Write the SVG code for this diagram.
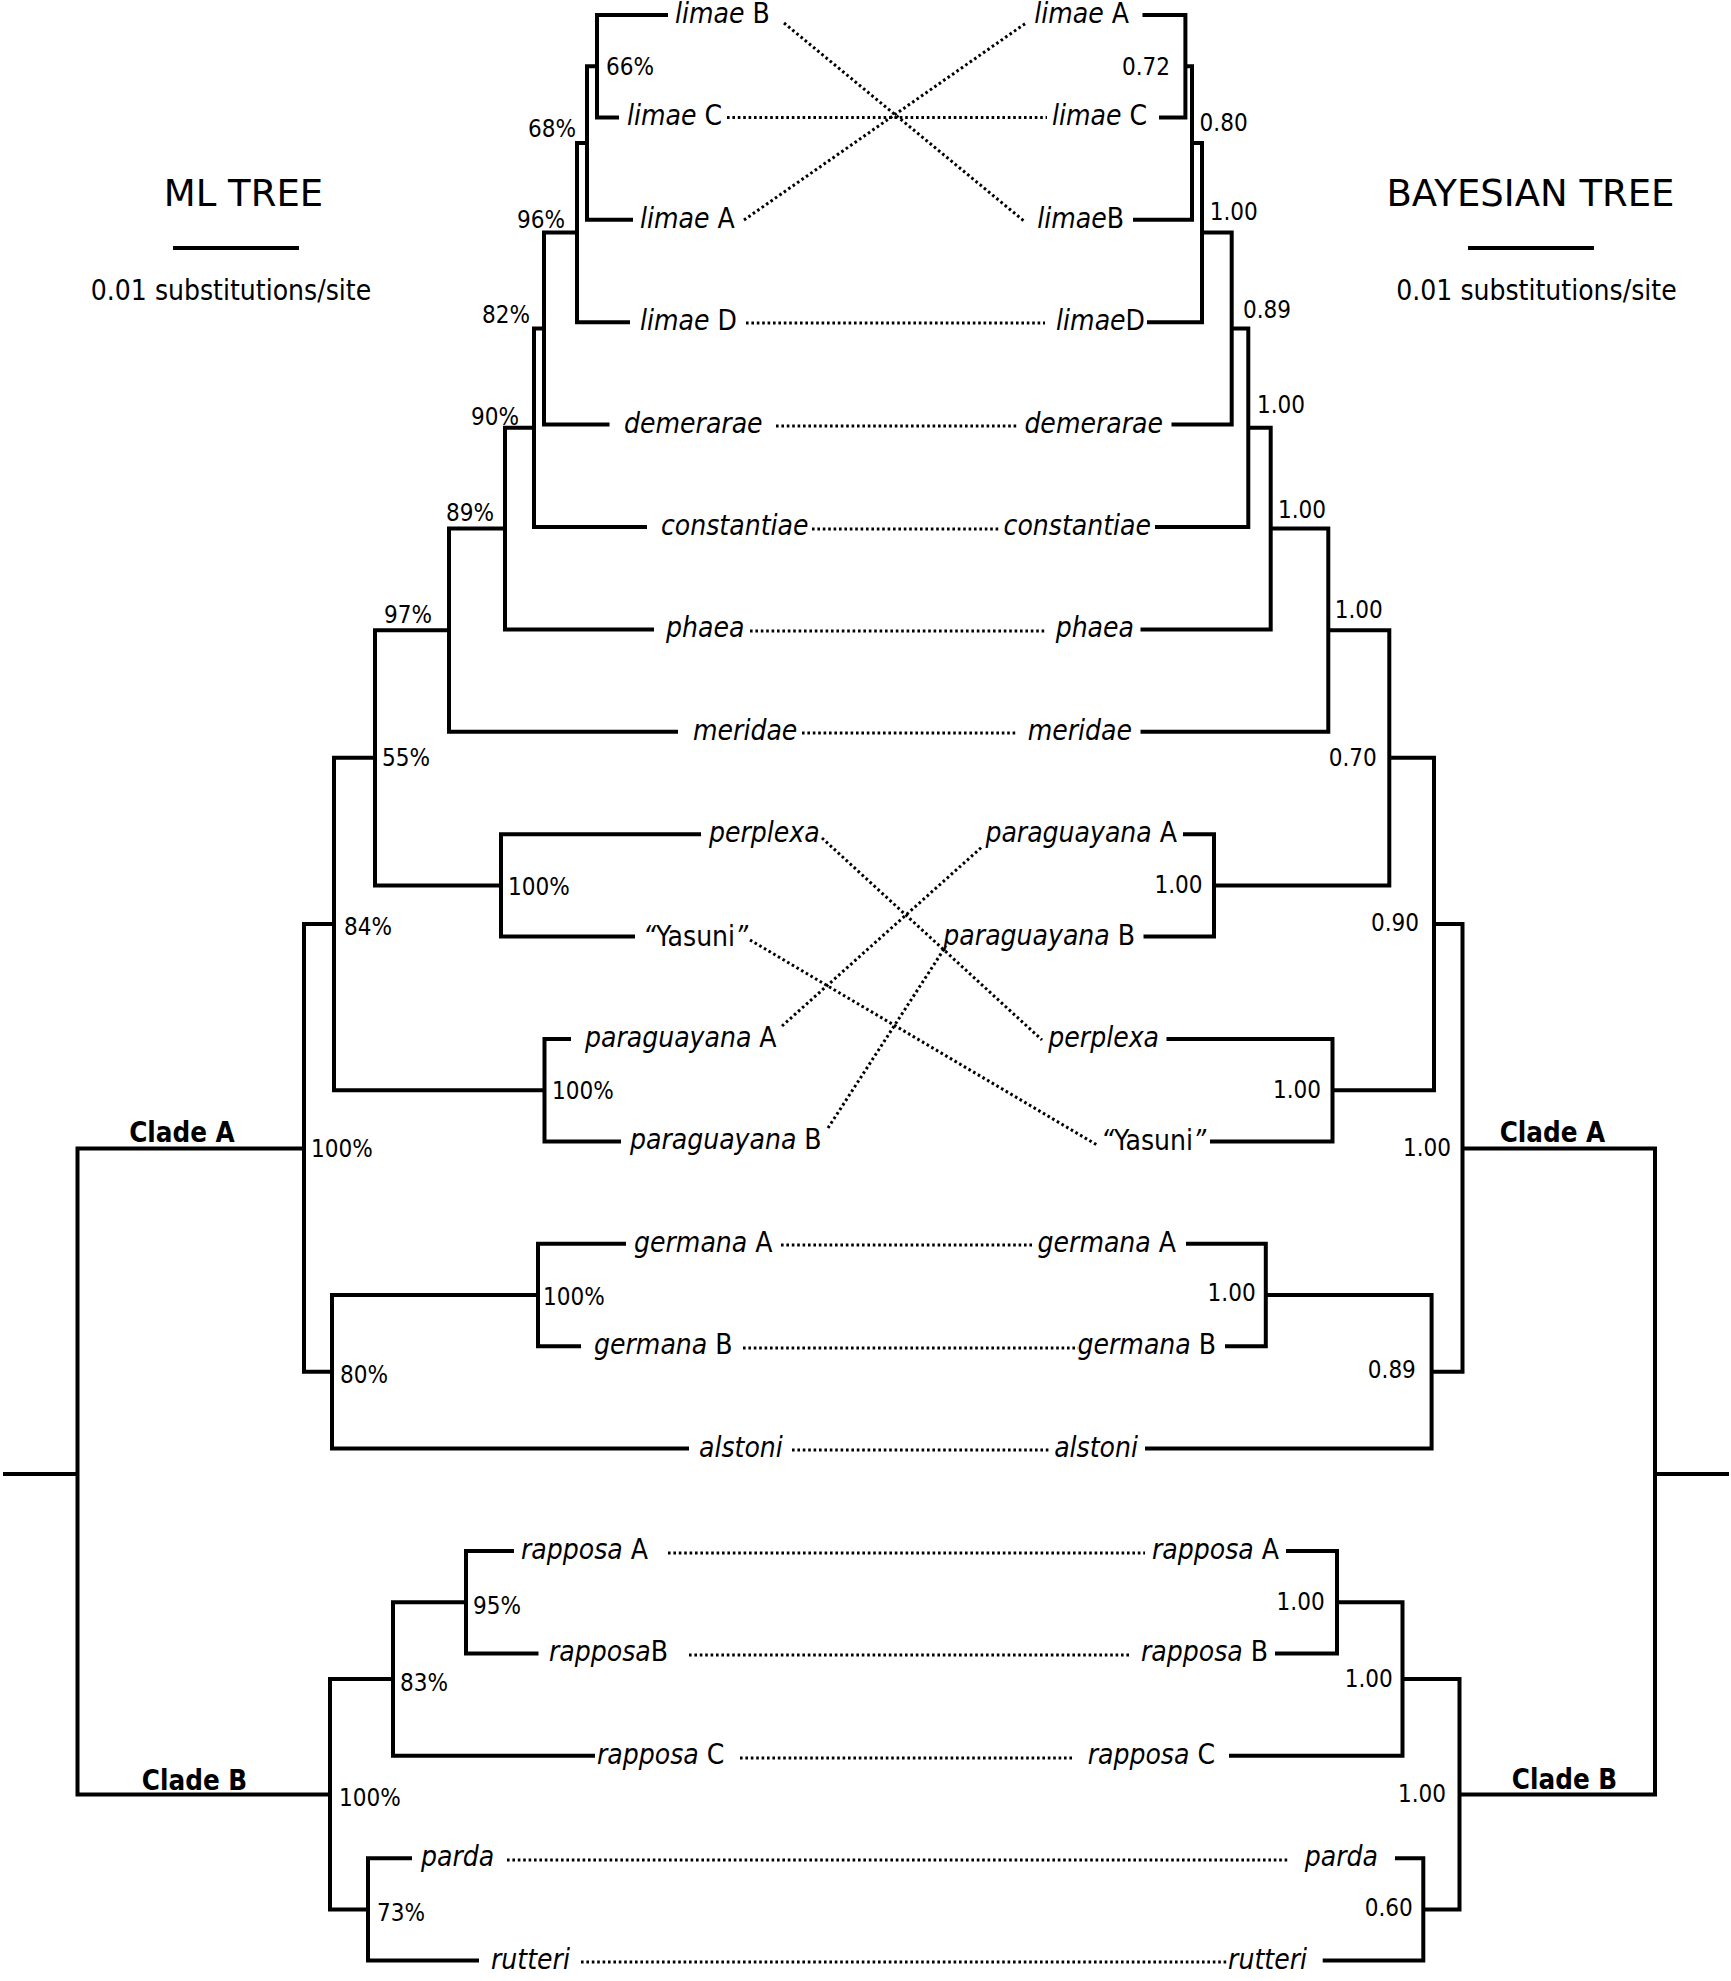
<svg xmlns="http://www.w3.org/2000/svg" width="1731" height="1981" viewBox="0 0 1731 1981">
<style>
.br{fill:none;stroke:#000;stroke-width:4;stroke-linejoin:miter;stroke-linecap:butt}
.dl{fill:none;stroke:#000;stroke-width:3;stroke-dasharray:2.6 2.8}
.sp{font-family:"DejaVu Sans Condensed","DejaVu Sans",sans-serif;font-stretch:condensed;font-size:28px;fill:#000}
.it{font-style:italic}
.num{font-family:"DejaVu Sans Condensed","DejaVu Sans",sans-serif;font-stretch:condensed;font-size:24px;fill:#000}
.clade{font-family:"DejaVu Sans Condensed","DejaVu Sans",sans-serif;font-stretch:condensed;font-weight:bold;font-size:27.5px;fill:#000}
.title{font-family:"DejaVu Sans",sans-serif;font-size:37px;fill:#000}
.sub{font-family:"DejaVu Sans Condensed","DejaVu Sans",sans-serif;font-stretch:condensed;font-size:28px;fill:#000}
.r{text-anchor:end}
</style>
<rect width="1731" height="1981" fill="#fff"/>

<g id="legend-ml">
<text class="title" x="243.5" y="206" text-anchor="middle">ML TREE</text>
<line class="br" x1="173" y1="248" x2="299" y2="248"/>
<text class="sub" x="231" y="300" text-anchor="middle">0.01 substitutions/site</text>
</g>
<g id="legend-bayes">
<text class="title" x="1530.5" y="206" text-anchor="middle">BAYESIAN TREE</text>
<line class="br" x1="1468" y1="248" x2="1594" y2="248"/>
<text class="sub" x="1536.5" y="300" text-anchor="middle">0.01 substitutions/site</text>
</g>

<g id="ml-branches">
<path class="br" d="M668,15 H597 V117.4 H619"/>
<path class="br" d="M597,66.2 H587 V219.8 H633"/>
<path class="br" d="M587,143 H577 V322.2 H630"/>
<path class="br" d="M577,232.6 H544 V424.6 H609.5"/>
<path class="br" d="M544,328.6 H534 V527 H647"/>
<path class="br" d="M534,427.8 H505 V629.4 H654"/>
<path class="br" d="M505,528.6 H449 V731.8 H678"/>
<path class="br" d="M701,834.2 H501 V936.6 H635"/>
<path class="br" d="M449,630.2 H375 V885.4 H501"/>
<path class="br" d="M571,1039 H544.5 V1141.4 H621"/>
<path class="br" d="M375,757.8 H334 V1090.2 H544.5"/>
<path class="br" d="M626,1243.8 H538 V1346.2 H581"/>
<path class="br" d="M538,1295 H332 V1448.6 H689"/>
<path class="br" d="M334,924 H304 V1371.8 H332"/>
<path class="br" d="M514,1551 H466 V1653.4 H538.5"/>
<path class="br" d="M466,1602.2 H393 V1755.8 H595"/>
<path class="br" d="M412,1858.2 H368 V1960.6 H479"/>
<path class="br" d="M393,1679 H330 V1909.4 H368"/>
<path class="br" d="M304,1148.5 H77.5 V1794.5 H330"/>
<path class="br" d="M3,1474 H77.5"/>
</g>

<g id="bayes-branches">
<path class="br" d="M1142.5,15 H1185.4 V117.4 H1159"/>
<path class="br" d="M1185.4,66.2 H1192 V219.8 H1133"/>
<path class="br" d="M1192,143 H1202 V322.2 H1147"/>
<path class="br" d="M1202,232.6 H1231.7 V424.6 H1171.5"/>
<path class="br" d="M1231.7,328.6 H1248.3 V527 H1155"/>
<path class="br" d="M1248.3,427.8 H1270.7 V629.4 H1140.5"/>
<path class="br" d="M1270.7,528.6 H1328.3 V731.8 H1140.5"/>
<path class="br" d="M1183,834.2 H1214 V936.6 H1143.5"/>
<path class="br" d="M1328.3,630.2 H1389.3 V885.4 H1214"/>
<path class="br" d="M1166.5,1039 H1332.5 V1141.4 H1210"/>
<path class="br" d="M1389.3,757.8 H1434 V1090.2 H1332.5"/>
<path class="br" d="M1186,1243.8 H1265.8 V1346.2 H1225"/>
<path class="br" d="M1265.8,1295 H1431.6 V1448.6 H1145"/>
<path class="br" d="M1434,924 H1462.5 V1371.8 H1431.6"/>
<path class="br" d="M1286,1551 H1337 V1653.4 H1275"/>
<path class="br" d="M1337,1602.2 H1402.5 V1755.8 H1229"/>
<path class="br" d="M1395,1858.2 H1423.3 V1960.6 H1322.7"/>
<path class="br" d="M1402.5,1679 H1459.5 V1909.4 H1423.3"/>
<path class="br" d="M1462.5,1148.5 H1655 V1794.5 H1459.5"/>
<path class="br" d="M1655,1474 H1729"/>
</g>

<g id="links">
<line class="dl" x1="784" y1="23" x2="1024" y2="221"/>
<line class="dl" x1="744" y1="220" x2="1026" y2="23"/>
<line class="dl" x1="727" y1="117.4" x2="1047" y2="117.4"/>
<line class="dl" x1="746" y1="323" x2="1045" y2="323"/>
<line class="dl" x1="776" y1="426" x2="1019" y2="426"/>
<line class="dl" x1="812" y1="529" x2="1000" y2="529"/>
<line class="dl" x1="750" y1="631" x2="1046" y2="631"/>
<line class="dl" x1="802" y1="733" x2="1017" y2="733"/>
<line class="dl" x1="822" y1="838" x2="1042" y2="1040"/>
<line class="dl" x1="750" y1="940" x2="1097" y2="1145"/>
<line class="dl" x1="782" y1="1026" x2="983" y2="846"/>
<line class="dl" x1="828" y1="1128" x2="946" y2="946"/>
<line class="dl" x1="781" y1="1245" x2="1033" y2="1245"/>
<line class="dl" x1="743" y1="1348" x2="1078" y2="1348"/>
<line class="dl" x1="792" y1="1450" x2="1051" y2="1450"/>
<line class="dl" x1="668" y1="1553" x2="1145" y2="1553"/>
<line class="dl" x1="689" y1="1655" x2="1130" y2="1655"/>
<line class="dl" x1="740" y1="1758" x2="1072" y2="1758"/>
<line class="dl" x1="507" y1="1860" x2="1289" y2="1860"/>
<line class="dl" x1="581" y1="1962" x2="1229" y2="1962"/>
</g>

<g id="ml-leaves">
<g id="ml-limaeB"><text class="sp" x="675" y="23"><tspan class="it">limae</tspan> B</text></g>
<g id="ml-limaeC"><text class="sp" x="627" y="125.4"><tspan class="it">limae</tspan> C</text></g>
<g id="ml-limaeA"><text class="sp" x="640" y="227.8"><tspan class="it">limae</tspan> A</text></g>
<g id="ml-limaeD"><text class="sp" x="640" y="330.2"><tspan class="it">limae</tspan> D</text></g>
<g id="ml-demerarae"><text class="sp it" x="624" y="432.6">demerarae</text></g>
<g id="ml-constantiae"><text class="sp it" x="661" y="535">constantiae</text></g>
<g id="ml-phaea"><text class="sp it" x="666" y="637.4">phaea</text></g>
<g id="ml-meridae"><text class="sp it" x="693" y="739.8">meridae</text></g>
<g id="ml-perplexa"><text class="sp it" x="709" y="842.2">perplexa</text></g>
<g id="ml-yasuni"><text class="sp" x="643" y="946"><tspan class="it">“</tspan>Yasuni<tspan class="it">”</tspan></text></g>
<g id="ml-paraguayanaA"><text class="sp" x="585" y="1047"><tspan class="it">paraguayana</tspan> A</text></g>
<g id="ml-paraguayanaB"><text class="sp" x="630" y="1149.4"><tspan class="it">paraguayana</tspan> B</text></g>
<g id="ml-germanaA"><text class="sp" x="634" y="1251.8"><tspan class="it">germana</tspan> A</text></g>
<g id="ml-germanaB"><text class="sp" x="594" y="1354.2"><tspan class="it">germana</tspan> B</text></g>
<g id="ml-alstoni"><text class="sp it" x="699" y="1456.6">alstoni</text></g>
<g id="ml-rapposaA"><text class="sp" x="521" y="1559"><tspan class="it">rapposa</tspan> A</text></g>
<g id="ml-rapposaB"><text class="sp" x="549" y="1661.4"><tspan class="it">rapposa</tspan>B</text></g>
<g id="ml-rapposaC"><text class="sp" x="597" y="1763.8"><tspan class="it">rapposa</tspan> C</text></g>
<g id="ml-parda"><text class="sp it" x="421" y="1866.2">parda</text></g>
<g id="ml-rutteri"><text class="sp it" x="491" y="1968.6">rutteri</text></g>
</g>

<g id="bayes-leaves">
<g id="by-limaeA"><text class="sp r" x="1129" y="23"><tspan class="it">limae</tspan> A</text></g>
<g id="by-limaeC"><text class="sp r" x="1147" y="125.4"><tspan class="it">limae</tspan> C</text></g>
<g id="by-limaeB"><text class="sp r" x="1124" y="227.8"><tspan class="it">limae</tspan>B</text></g>
<g id="by-limaeD"><text class="sp r" x="1145" y="330.2"><tspan class="it">limae</tspan>D</text></g>
<g id="by-demerarae"><text class="sp it r" x="1163" y="432.6">demerarae</text></g>
<g id="by-constantiae"><text class="sp it r" x="1151" y="535">constantiae</text></g>
<g id="by-phaea"><text class="sp it r" x="1134" y="637.4">phaea</text></g>
<g id="by-meridae"><text class="sp it r" x="1132" y="739.8">meridae</text></g>
<g id="by-paraguayanaA"><text class="sp r" x="1177" y="842.2"><tspan class="it">paraguayana</tspan> A</text></g>
<g id="by-paraguayanaB"><text class="sp r" x="1135" y="944.6"><tspan class="it">paraguayana</tspan> B</text></g>
<g id="by-perplexa"><text class="sp it r" x="1159" y="1047">perplexa</text></g>
<g id="by-yasuni"><text class="sp r" x="1206" y="1150"><tspan class="it">“</tspan>Yasuni<tspan class="it">”</tspan></text></g>
<g id="by-germanaA"><text class="sp r" x="1176" y="1251.8"><tspan class="it">germana</tspan> A</text></g>
<g id="by-germanaB"><text class="sp r" x="1216" y="1354.2"><tspan class="it">germana</tspan> B</text></g>
<g id="by-alstoni"><text class="sp it r" x="1138" y="1456.6">alstoni</text></g>
<g id="by-rapposaA"><text class="sp r" x="1279" y="1559"><tspan class="it">rapposa</tspan> A</text></g>
<g id="by-rapposaB"><text class="sp r" x="1268" y="1661.4"><tspan class="it">rapposa</tspan> B</text></g>
<g id="by-rapposaC"><text class="sp r" x="1215" y="1763.8"><tspan class="it">rapposa</tspan> C</text></g>
<g id="by-parda"><text class="sp it r" x="1378" y="1866.2">parda</text></g>
<g id="by-rutteri"><text class="sp it r" x="1307" y="1968.6">rutteri</text></g>
</g>

<g id="ml-support">
<g id="ml-n66"><text class="num" x="606" y="75">66%</text></g>
<g id="ml-n68"><text class="num" x="528" y="137">68%</text></g>
<g id="ml-n96"><text class="num" x="517" y="228">96%</text></g>
<g id="ml-n82"><text class="num" x="482" y="323">82%</text></g>
<g id="ml-n90"><text class="num" x="471" y="425">90%</text></g>
<g id="ml-n89"><text class="num" x="446" y="521">89%</text></g>
<g id="ml-n97"><text class="num" x="384" y="623">97%</text></g>
<g id="ml-n55"><text class="num" x="382" y="766">55%</text></g>
<g id="ml-nPY"><text class="num" x="508" y="895">100%</text></g>
<g id="ml-n84"><text class="num" x="344" y="935">84%</text></g>
<g id="ml-nPA"><text class="num" x="552" y="1099">100%</text></g>
<g id="ml-nCA"><text class="num" x="311" y="1157">100%</text></g>
<g id="ml-nG"><text class="num" x="543" y="1305">100%</text></g>
<g id="ml-n80"><text class="num" x="340" y="1383">80%</text></g>
<g id="ml-n95"><text class="num" x="473" y="1614">95%</text></g>
<g id="ml-n83"><text class="num" x="400" y="1691">83%</text></g>
<g id="ml-nCB"><text class="num" x="339" y="1806">100%</text></g>
<g id="ml-n73"><text class="num" x="377" y="1921">73%</text></g>
<g id="ml-cladeA"><text class="clade" x="182" y="1141.7" text-anchor="middle">Clade A</text></g>
<g id="ml-cladeB"><text class="clade" x="194.5" y="1790" text-anchor="middle">Clade B</text></g>
</g>

<g id="bayes-support">
<g id="by-n072"><text class="num" x="1122" y="75">0.72</text></g>
<g id="by-n080"><text class="num" x="1199.6" y="131">0.80</text></g>
<g id="by-n100a"><text class="num" x="1209.7" y="220">1.00</text></g>
<g id="by-n089"><text class="num" x="1243" y="318">0.89</text></g>
<g id="by-n100b"><text class="num" x="1257" y="413.4">1.00</text></g>
<g id="by-n100c"><text class="num" x="1278" y="518">1.00</text></g>
<g id="by-n100d"><text class="num" x="1334.7" y="618">1.00</text></g>
<g id="by-n070"><text class="num" x="1328.7" y="765.5">0.70</text></g>
<g id="by-nPP"><text class="num" x="1154.5" y="893">1.00</text></g>
<g id="by-n090"><text class="num" x="1371" y="931">0.90</text></g>
<g id="by-nPY"><text class="num" x="1273" y="1098">1.00</text></g>
<g id="by-nCA"><text class="num" x="1403" y="1156">1.00</text></g>
<g id="by-nG"><text class="num" x="1207.6" y="1301">1.00</text></g>
<g id="by-n089b"><text class="num" x="1367.8" y="1378">0.89</text></g>
<g id="by-nRAB"><text class="num" x="1276.6" y="1610">1.00</text></g>
<g id="by-nR"><text class="num" x="1344.7" y="1686.7">1.00</text></g>
<g id="by-nCB"><text class="num" x="1398" y="1801.7">1.00</text></g>
<g id="by-n060"><text class="num" x="1364.7" y="1916">0.60</text></g>
<g id="by-cladeA"><text class="clade" x="1552.5" y="1141.7" text-anchor="middle">Clade A</text></g>
<g id="by-cladeB"><text class="clade" x="1564.5" y="1789.3" text-anchor="middle">Clade B</text></g>
</g>
</svg>
